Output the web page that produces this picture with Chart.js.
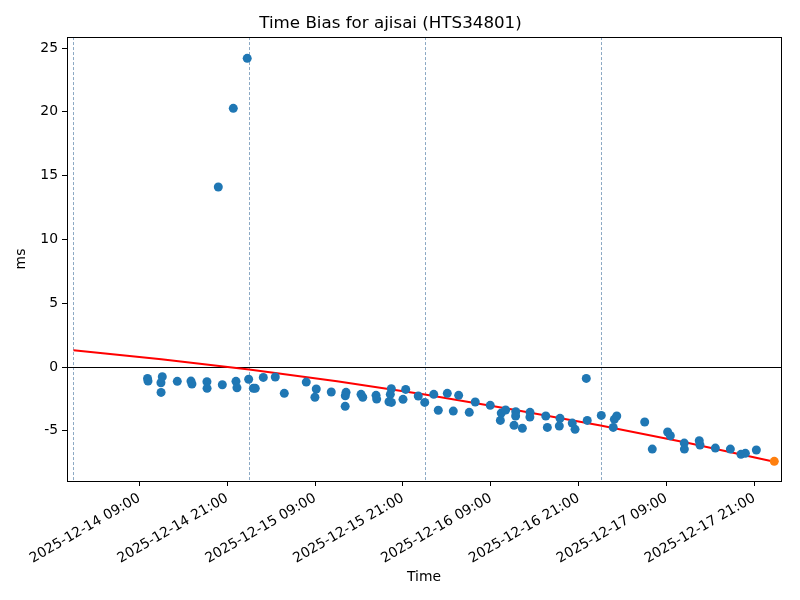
<!DOCTYPE html>
<html>
<head>
<meta charset="utf-8">
<script src="https://cdn.jsdelivr.net/npm/chart.js@4"></script>
<style>
    html, body { margin: 0; padding: 0; background: #fff; }
</style>
</head>
<body>
<canvas id="chart" width="800" height="600"></canvas>
<script>
// Time bias samples (UTC)
const sampleTimes = [
    "2025-12-14 10:07", "2025-12-14 10:11", "2025-12-14 12:08", "2025-12-14 11:57", "2025-12-14 11:58",
    "2025-12-14 14:11", "2025-12-14 16:03", "2025-12-14 16:11", "2025-12-14 18:14", "2025-12-14 18:15",
    "2025-12-14 19:47", "2025-12-14 20:20", "2025-12-14 21:50", "2025-12-14 22:12", "2025-12-14 22:20",
    "2025-12-14 23:44", "2025-12-14 23:56", "2025-12-15 00:34", "2025-12-15 00:50", "2025-12-15 01:56",
    "2025-12-15 03:34", "2025-12-15 04:48", "2025-12-15 07:48", "2025-12-15 09:10", "2025-12-15 08:59",
    "2025-12-15 11:13", "2025-12-15 13:14", "2025-12-15 13:08", "2025-12-15 13:07", "2025-12-15 15:17",
    "2025-12-15 15:31", "2025-12-15 17:20", "2025-12-15 17:25", "2025-12-15 19:25", "2025-12-15 19:17",
    "2025-12-15 19:06", "2025-12-15 19:26", "2025-12-15 21:23", "2025-12-15 21:01", "2025-12-15 23:06",
    "2025-12-15 23:59", "2025-12-16 01:13", "2025-12-16 01:50", "2025-12-16 03:04", "2025-12-16 03:53",
    "2025-12-16 04:37", "2025-12-16 06:04", "2025-12-16 06:53", "2025-12-16 08:56", "2025-12-16 10:19",
    "2025-12-16 10:26", "2025-12-16 11:02", "2025-12-16 12:11", "2025-12-16 12:25", "2025-12-16 12:24",
    "2025-12-16 13:19", "2025-12-16 14:22", "2025-12-16 14:21", "2025-12-16 16:31", "2025-12-16 16:44",
    "2025-12-16 18:22", "2025-12-16 18:28", "2025-12-16 20:08", "2025-12-16 20:31", "2025-12-16 22:03",
    "2025-12-16 22:11", "2025-12-17 00:06", "2025-12-17 01:44", "2025-12-17 01:53", "2025-12-17 02:13",
    "2025-12-17 06:02", "2025-12-17 07:04", "2025-12-17 09:10", "2025-12-17 09:32", "2025-12-17 11:26",
    "2025-12-17 11:27", "2025-12-17 13:29", "2025-12-17 13:35", "2025-12-17 15:41", "2025-12-17 17:44",
    "2025-12-17 19:11", "2025-12-17 19:47", "2025-12-17 21:17"
];
const sampleBias = [
    -0.90, -1.10, -0.76, -1.23, -1.99,
    -1.12, -1.10, -1.33, -1.15, -1.67,
    14.11, -1.39, 20.27, -1.12, -1.62,
    24.19, -0.96, -1.67, -1.67, -0.81,
    -0.78, -2.06, -1.18, -1.72, -2.37,
    -1.96, -1.98, -2.25, -3.08, -2.14,
    -2.37, -2.22, -2.51, -1.70, -2.14,
    -2.72, -2.77, -1.75, -2.53, -2.27,
    -2.77, -2.14, -3.39, -2.06, -3.45,
    -2.22, -3.55, -2.74, -3.00, -4.18,
    -3.61, -3.37, -4.57, -3.50, -3.84,
    -4.80, -3.55, -3.92, -3.84, -4.73,
    -4.62, -4.02, -4.39, -4.88, -0.89,
    -4.18, -3.79, -4.73, -4.10, -3.84,
    -4.31, -6.43, -5.09, -5.38, -5.96,
    -6.43, -5.78, -6.11, -6.35, -6.43,
    -6.84, -6.76, -6.50
];

// latest sample (highlighted)
const latestTime = "2025-12-17 23:44";
const latestBias = -7.39;

// trend curve
const trendTimes = ["2025-12-14 00:00", "2025-12-14 12:00", "2025-12-15 00:00", "2025-12-15 12:00",
    "2025-12-16 00:00", "2025-12-16 12:00", "2025-12-17 00:00", "2025-12-17 12:00", "2025-12-17 23:44"];
const trendBias = [1.31, 0.61, -0.20, -1.12, -2.16, -3.32, -4.58, -5.96, -7.42];

// axis
const xTickTimes = ["2025-12-14 09:00", "2025-12-14 21:00", "2025-12-15 09:00", "2025-12-15 21:00",
    "2025-12-16 09:00", "2025-12-16 21:00", "2025-12-17 09:00", "2025-12-17 21:00"];
const dayLines = ["2025-12-14 00:00", "2025-12-15 00:00", "2025-12-16 00:00", "2025-12-17 00:00"];
const xMin = "2025-12-13 23:07";
const xMax = "2025-12-18 00:39";
const yMin = -8.93;
const yMax = 25.86;

const toMs = s => Date.parse(s.replace(" ", "T") + ":00Z");
const pad = n => String(n).padStart(2, "0");
const fmtTime = v => {
    const d = new Date(v);
    return `${d.getUTCFullYear()}-${pad(d.getUTCMonth() + 1)}-${pad(d.getUTCDate())} ${pad(d.getUTCHours())}:${pad(d.getUTCMinutes())}`;
};

Chart.defaults.font.family = "'DejaVu Sans', sans-serif";
Chart.defaults.color = "#000";

const refLines = {
    id: "refLines",
    beforeDatasetsDraw(chart) {
        const { ctx, chartArea: a, scales: { x, y } } = chart;
        ctx.save();
        ctx.beginPath();
        ctx.rect(a.left, a.top, a.right - a.left, a.bottom - a.top);
        ctx.clip();
        ctx.strokeStyle = "#6f93b5";
        ctx.lineWidth = 0.8;
        ctx.setLineDash([3, 2]);
        dayLines.forEach(t => {
            const px = Math.round(x.getPixelForValue(toMs(t))) + 0.5;
            ctx.beginPath();
            ctx.moveTo(px, a.top);
            ctx.lineTo(px, a.bottom);
            ctx.stroke();
        });
        ctx.setLineDash([]);
        ctx.strokeStyle = "#000";
        ctx.lineWidth = 1;
        const py = Math.round(y.getPixelForValue(0)) + 0.5;
        ctx.beginPath();
        ctx.moveTo(a.left, py);
        ctx.lineTo(a.right, py);
        ctx.stroke();
        ctx.restore();
    },
    afterDraw(chart) {
        const { ctx, chartArea: a } = chart;
        ctx.save();
        ctx.strokeStyle = "#000";
        ctx.lineWidth = 1;
        ctx.strokeRect(Math.round(a.left) + 0.5, Math.round(a.top) + 0.5,
            Math.round(a.right - a.left), Math.round(a.bottom - a.top));
        ctx.restore();
    }
};

new Chart(document.getElementById("chart"), {
    type: "scatter",
    data: {
        datasets: [
            {
                data: sampleTimes.map((t, i) => ({ x: toMs(t), y: sampleBias[i] })),
                backgroundColor: "#1f77b4",
                borderWidth: 0,
                pointRadius: 4.5,
                order: 2
            },
            {
                data: [{ x: toMs(latestTime), y: latestBias }],
                backgroundColor: "#ff7f0e",
                borderWidth: 0,
                pointRadius: 4.5,
                order: 1
            },
            {
                type: "line",
                data: trendTimes.map((t, i) => ({ x: toMs(t), y: trendBias[i] })),
                borderColor: "#ff0000",
                borderWidth: 2,
                pointRadius: 0,
                fill: false,
                cubicInterpolationMode: "monotone",
                order: 3
            }
        ]
    },
    options: {
        responsive: false,
        animation: false,
        devicePixelRatio: 1,
        layout: { padding: { right: 19 } },
        plugins: {
            legend: { display: false },
            tooltip: { enabled: false },
            title: {
                display: true,
                text: "Time Bias for ajisai (HTS34801)",
                font: { size: 16.7, weight: "normal" },
                color: "#000",
                padding: { top: 14, bottom: 3 }
            }
        },
        scales: {
            x: {
                type: "linear",
                min: toMs(xMin),
                max: toMs(xMax),
                afterBuildTicks: s => { s.ticks = xTickTimes.map(t => ({ value: toMs(t) })); },
                afterFit: s => { s.height = 119; },
                ticks: {
                    callback: v => fmtTime(v),
                    minRotation: 30,
                    maxRotation: 30,
                    autoSkip: false,
                    includeBounds: false,
                    padding: 4,
                    font: { size: 13.9 }
                },
                grid: { drawOnChartArea: false, tickLength: 5, color: "#000" },
                border: { color: "#000" },
                title: { display: true, text: "Time", font: { size: 13.9 }, padding: { top: 0, bottom: 14 } }
            },
            y: {
                min: yMin,
                max: yMax,
                afterFit: s => { s.width = 67; },
                ticks: { stepSize: 5, includeBounds: false, padding: 4, font: { size: 13.9 } },
                grid: { drawOnChartArea: false, tickLength: 5, color: "#000" },
                border: { color: "#000" },
                title: { display: true, text: "ms", font: { size: 13.9 }, padding: { top: 13.5, bottom: 0 } }
            }
        }
    },
    plugins: [refLines]
});
</script>
</body>
</html>
